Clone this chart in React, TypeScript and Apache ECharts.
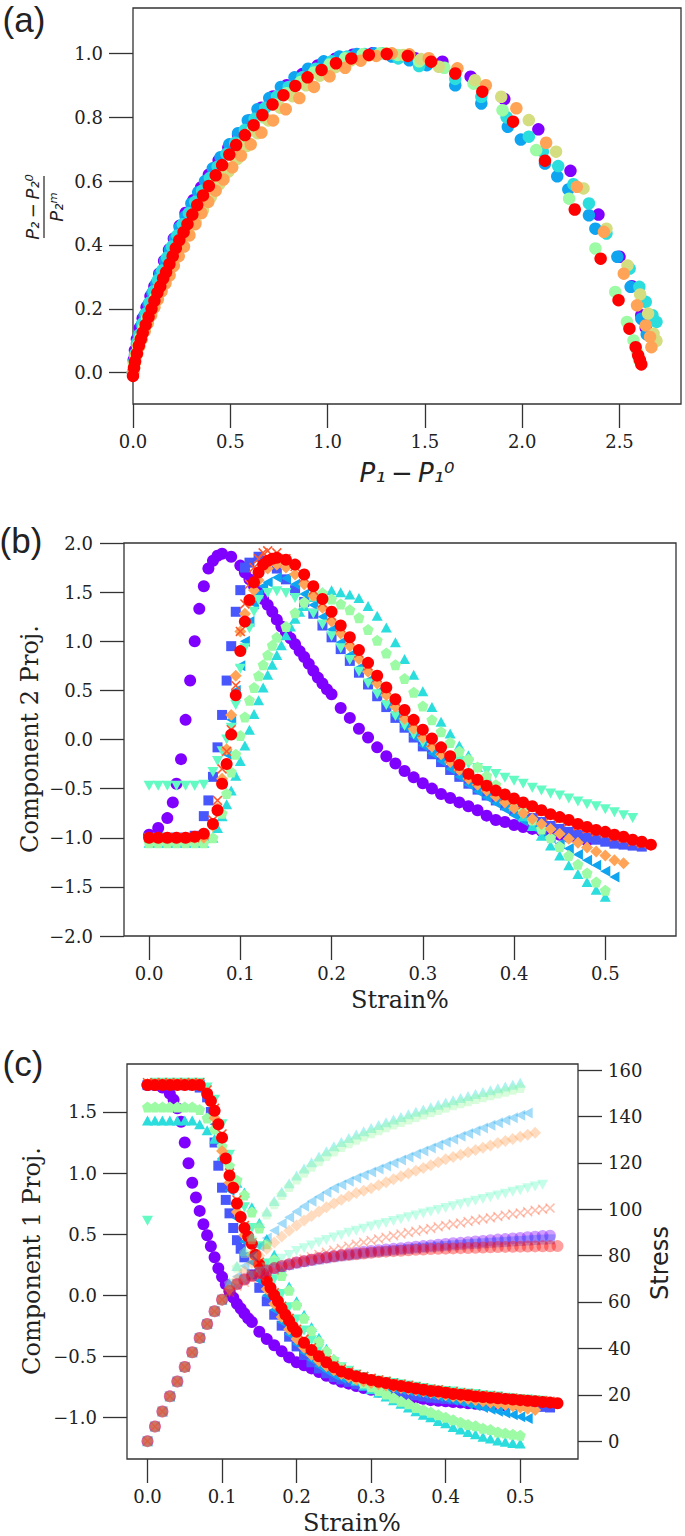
import { useEffect, useRef } from "react";
import * as echarts from "echarts";

// ---------- shared strain grid (panels b, c) ----------
const STRAIN = [
  0, 0.01, 0.02, 0.03, 0.04, 0.05, 0.06, 0.07, 0.08, 0.09, 0.1, 0.11, 0.12, 0.13, 0.14, 0.15, 0.16, 0.17, 0.18, 0.19,
  0.2, 0.21, 0.22, 0.23, 0.24, 0.25, 0.26, 0.27, 0.28, 0.29, 0.3, 0.31, 0.32, 0.33, 0.34, 0.35, 0.36, 0.37, 0.38, 0.39,
  0.4, 0.41, 0.42, 0.43, 0.44, 0.45, 0.46, 0.47, 0.48, 0.49, 0.5, 0.51, 0.52, 0.53, 0.54, 0.55,
];

// ---------- panel (a): P1 - P1^0 vs normalised P2 ----------
const A_PURPLE = [
  [0, 0], [0.004, 0.04], [0.01, 0.07], [0.02, 0.105], [0.035, 0.14], [0.05, 0.17], [0.07, 0.205], [0.09, 0.24],
  [0.11, 0.27], [0.135, 0.31], [0.16, 0.35], [0.185, 0.385], [0.21, 0.42], [0.24, 0.46], [0.27, 0.5], [0.31, 0.54],
  [0.35, 0.58], [0.39, 0.62], [0.44, 0.665], [0.49, 0.705], [0.54, 0.745], [0.6, 0.79], [0.66, 0.83], [0.72, 0.865],
  [0.79, 0.9], [0.87, 0.935], [0.95, 0.962], [1.04, 0.983], [1.13, 0.996], [1.23, 1.0], [1.33, 0.995], [1.45, 0.985],
  [1.59, 0.974], [1.735, 0.927], [1.908, 0.857], [2.083, 0.762], [2.248, 0.632], [2.392, 0.495], [2.5, 0.363],
  [2.563, 0.271], [2.612, 0.18], [2.635, 0.14],
];
const A_LBLUE = [
  [0, 0], [0.005, 0.03], [0.01, 0.055], [0.02, 0.09], [0.03, 0.115], [0.045, 0.15], [0.06, 0.18], [0.08, 0.215],
  [0.1, 0.25], [0.12, 0.28], [0.14, 0.31], [0.165, 0.35], [0.19, 0.385], [0.215, 0.42], [0.24, 0.455], [0.27, 0.49],
  [0.3, 0.53], [0.335, 0.565], [0.37, 0.6], [0.41, 0.64], [0.45, 0.675], [0.495, 0.715], [0.54, 0.75], [0.59, 0.79],
  [0.64, 0.825], [0.7, 0.86], [0.76, 0.895], [0.83, 0.925], [0.9, 0.952], [0.98, 0.975], [1.06, 0.99], [1.15, 0.998],
  [1.24, 1.0], [1.33, 0.99], [1.42, 0.978], [1.51, 0.963], [1.656, 0.9], [1.79, 0.843], [1.926, 0.77], [1.993, 0.73],
  [2.117, 0.655], [2.18, 0.615], [2.237, 0.574], [2.343, 0.493], [2.376, 0.451], [2.489, 0.363], [2.557, 0.269],
  [2.612, 0.169], [2.64, 0.12],
];
const A_CYAN = [
  [0, 0], [0.006, 0.035], [0.012, 0.06], [0.022, 0.095], [0.034, 0.12], [0.05, 0.155], [0.066, 0.185], [0.086, 0.22],
  [0.106, 0.255], [0.128, 0.29], [0.15, 0.32], [0.175, 0.36], [0.2, 0.395], [0.228, 0.43], [0.256, 0.465],
  [0.287, 0.5], [0.32, 0.535], [0.355, 0.57], [0.395, 0.61], [0.435, 0.645], [0.48, 0.685], [0.525, 0.72],
  [0.575, 0.76], [0.625, 0.795], [0.68, 0.83], [0.74, 0.865], [0.8, 0.895], [0.87, 0.925], [0.94, 0.952],
  [1.02, 0.975], [1.1, 0.99], [1.19, 0.998], [1.28, 1.0], [1.363, 0.984], [1.47, 0.96], [1.656, 0.92], [1.79, 0.864],
  [1.92, 0.8], [2.034, 0.739], [2.106, 0.692], [2.185, 0.647], [2.263, 0.59], [2.343, 0.53], [2.433, 0.436],
  [2.552, 0.326], [2.602, 0.269], [2.635, 0.222], [2.669, 0.18], [2.69, 0.159],
];
const A_LGREEN = [
  [0, 0], [0.007, 0.03], [0.014, 0.055], [0.025, 0.085], [0.038, 0.11], [0.055, 0.14], [0.073, 0.17], [0.093, 0.2],
  [0.115, 0.235], [0.138, 0.27], [0.162, 0.3], [0.188, 0.335], [0.215, 0.37], [0.245, 0.41], [0.275, 0.445],
  [0.308, 0.48], [0.345, 0.52], [0.385, 0.56], [0.425, 0.6], [0.47, 0.64], [0.515, 0.68], [0.565, 0.72],
  [0.615, 0.76], [0.67, 0.8], [0.73, 0.84], [0.79, 0.875], [0.86, 0.91], [0.93, 0.94], [1.01, 0.965], [1.09, 0.985],
  [1.18, 0.997], [1.27, 1.0], [1.36, 0.995], [1.47, 0.975], [1.6, 0.955], [1.75, 0.905], [1.899, 0.822],
  [2.072, 0.697], [2.241, 0.545], [2.376, 0.389], [2.478, 0.253], [2.538, 0.159], [2.572, 0.101], [2.59, 0.065],
  [2.6, 0.04],
];
const A_YGREEN = [
  [0, 0], [0.007, 0.028], [0.015, 0.05], [0.027, 0.08], [0.04, 0.105], [0.058, 0.135], [0.077, 0.165],
  [0.098, 0.195], [0.12, 0.228], [0.144, 0.262], [0.17, 0.295], [0.197, 0.33], [0.225, 0.365], [0.255, 0.4],
  [0.287, 0.435], [0.322, 0.472], [0.36, 0.51], [0.4, 0.55], [0.443, 0.59], [0.49, 0.63], [0.537, 0.67],
  [0.587, 0.71], [0.64, 0.75], [0.696, 0.79], [0.756, 0.83], [0.82, 0.866], [0.89, 0.9], [0.96, 0.93],
  [1.04, 0.957], [1.12, 0.978], [1.21, 0.993], [1.3, 1.0], [1.39, 0.995], [1.48, 0.982], [1.572, 0.958],
  [1.757, 0.916], [1.892, 0.864], [2.034, 0.791], [2.174, 0.692], [2.315, 0.577], [2.433, 0.451], [2.541, 0.336],
  [2.606, 0.245], [2.647, 0.185], [2.675, 0.122], [2.69, 0.1],
];
const A_ORANGE = [
  [0, 0], [0.006, 0.015], [0.012, 0.035], [0.022, 0.06], [0.033, 0.083], [0.045, 0.105], [0.06, 0.13],
  [0.076, 0.155], [0.093, 0.18], [0.11, 0.205], [0.128, 0.23], [0.147, 0.255], [0.167, 0.28], [0.188, 0.305],
  [0.21, 0.335], [0.235, 0.365], [0.262, 0.395], [0.29, 0.43], [0.32, 0.465], [0.352, 0.5], [0.387, 0.535],
  [0.425, 0.57], [0.465, 0.605], [0.51, 0.643], [0.555, 0.68], [0.605, 0.715], [0.66, 0.752], [0.72, 0.79],
  [0.785, 0.825], [0.855, 0.86], [0.93, 0.895], [1.01, 0.928], [1.09, 0.955], [1.17, 0.977], [1.25, 0.992],
  [1.33, 1.0], [1.42, 0.997], [1.52, 0.985], [1.667, 0.953], [1.813, 0.9], [1.97, 0.828], [2.123, 0.72],
  [2.281, 0.582], [2.42, 0.441], [2.522, 0.31], [2.59, 0.211], [2.635, 0.148], [2.657, 0.112], [2.664, 0.08],
];
const A_RED = [
  [0, -0.01], [0.005, 0.015], [0.01, 0.035], [0.02, 0.06], [0.03, 0.085], [0.04, 0.105], [0.05, 0.125],
  [0.065, 0.15], [0.08, 0.175], [0.095, 0.2], [0.11, 0.225], [0.125, 0.25], [0.14, 0.27], [0.155, 0.295],
  [0.17, 0.315], [0.187, 0.34], [0.204, 0.365], [0.22, 0.39], [0.238, 0.415], [0.26, 0.44], [0.28, 0.465],
  [0.305, 0.495], [0.33, 0.525], [0.36, 0.555], [0.39, 0.585], [0.425, 0.618], [0.458, 0.65], [0.495, 0.683],
  [0.53, 0.713], [0.575, 0.744], [0.62, 0.775], [0.665, 0.807], [0.717, 0.84], [0.773, 0.869], [0.834, 0.898],
  [0.897, 0.925], [0.969, 0.948], [1.043, 0.969], [1.122, 0.984], [1.212, 0.995], [1.304, 0.998], [1.412, 0.992],
  [1.532, 0.974], [1.656, 0.937], [1.795, 0.88], [1.953, 0.786], [2.117, 0.664], [2.27, 0.511], [2.403, 0.357],
  [2.495, 0.227], [2.551, 0.138], [2.583, 0.08], [2.596, 0.054], [2.605, 0.039], [2.612, 0.026],
];

// ---------- panel (b): component 2 projection ----------
const B_PURPLE = [
  -0.97, -0.9, -0.8, -0.45, 0.2, 1.0, 1.56, 1.82, 1.89, 1.86, 1.77, 1.63, 1.5, 1.37, 1.22, 1.09, 0.97, 0.84, 0.7, 0.57,
  0.46, 0.32, 0.22, 0.11, 0.02, -0.08, -0.17, -0.245, -0.32, -0.385, -0.445, -0.5, -0.555, -0.595, -0.64, -0.68,
  -0.72, -0.775, -0.82, -0.84, -0.87, -0.89, -0.91, -0.93, -0.95, -0.97, -0.99, -1.01, -1.03,
];
const B_SQUARE = [
  -1.0, -1.0, -1.0, -1.0, -1.0, -0.98, -0.78, -0.38, 0.25, 0.95, 1.52, 1.8, 1.86, 1.82, 1.74, 1.63, 1.52, 1.4, 1.28,
  1.16, 1.04, 0.92, 0.8, 0.68, 0.56, 0.44, 0.33, 0.22, 0.12, 0.02, -0.07, -0.15, -0.23, -0.31, -0.38, -0.45, -0.51,
  -0.57, -0.62, -0.67, -0.72, -0.76, -0.8, -0.84, -0.88, -0.91, -0.94, -0.97, -1.0, -1.02, -1.04, -1.06, -1.07, -1.08,
  -1.09,
];
const B_LBLUE = [
  -1.0, -1.0, -1.0, -1.0, -1.0, -1.0, -1.0, -0.88, -0.45, 0.2, 0.75, 1.2, 1.48, 1.6, 1.65, 1.64, 1.58, 1.48, 1.37,
  1.25, 1.12, 0.99, 0.86, 0.73, 0.6, 0.48, 0.36, 0.24, 0.13, 0.03, -0.06, -0.14, -0.22, -0.3, -0.38, -0.46, -0.53,
  -0.59, -0.65, -0.71, -0.77, -0.83, -0.89, -0.95, -1.0, -1.06, -1.11, -1.17, -1.23, -1.28, -1.34, -1.4,
];
const B_TURQ = [
  -1.05, -1.05, -1.05, -1.05, -1.05, -1.05, -1.05, -1.0, -0.78, -0.52, -0.22, 0.1, 0.4, 0.66, 0.86, 1.06, 1.23,
  1.36, 1.45, 1.5, 1.52, 1.5, 1.475, 1.44, 1.36, 1.26, 1.14, 0.99, 0.82, 0.66, 0.49, 0.33, 0.18, 0.06, -0.06, -0.16,
  -0.28, -0.38, -0.48, -0.58, -0.68, -0.78, -0.88, -0.98, -1.08, -1.18, -1.28, -1.37, -1.45, -1.53, -1.6,
];
const B_TEAL = [
  -0.47, -0.47, -0.47, -0.47, -0.47, -0.47, -0.46, -0.33, -0.12, 0.12, 0.72, 1.13, 1.42, 1.49, 1.51, 1.49, 1.44,
  1.37, 1.28, 1.17, 1.05, 0.93, 0.81, 0.69, 0.57, 0.46, 0.35, 0.24, 0.14, 0.05, -0.03, -0.09, -0.14, -0.18, -0.22,
  -0.25, -0.29, -0.32, -0.35, -0.39, -0.42, -0.45, -0.49, -0.52, -0.55, -0.57, -0.6, -0.63, -0.66, -0.68, -0.71,
  -0.74, -0.77, -0.8,
];
const B_PENT = [
  -1.05, -1.05, -1.05, -1.05, -1.05, -1.05, -1.05, -1.0, -0.75, -0.33, 0.04, 0.4, 0.65, 0.86, 1.04, 1.15, 1.29, 1.4,
  1.47, 1.49, 1.43, 1.38, 1.32, 1.24, 1.12, 1.01, 0.88, 0.76, 0.62, 0.48, 0.34, 0.2, 0.08, -0.03, -0.12, -0.2, -0.28,
  -0.37, -0.46, -0.55, -0.64, -0.73, -0.82, -0.91, -1.0, -1.09, -1.18, -1.27, -1.36, -1.45, -1.535,
];
const B_ORANGE = [
  -1.0, -1.0, -1.0, -1.0, -1.0, -1.0, -1.0, -0.88, -0.4, 0.25, 1.1, 1.4, 1.62, 1.74, 1.78, 1.75, 1.68, 1.58, 1.46,
  1.34, 1.2, 1.08, 0.95, 0.82, 0.69, 0.57, 0.45, 0.33, 0.21, 0.11, 0.02, -0.07, -0.15, -0.23, -0.31, -0.4, -0.46,
  -0.52, -0.58, -0.64, -0.7, -0.75, -0.81, -0.86, -0.91, -0.96, -1.01, -1.05, -1.1, -1.14, -1.18, -1.23, -1.26,
];
const B_CROSS = [
  -1.0, -1.0, -1.0, -1.0, -1.0, -1.0, -0.97, -0.82, -0.3, 0.1, 1.1, 1.58, 1.84, 1.92, 1.9, 1.84, 1.76, 1.65, 1.52,
  1.39, 1.26, 1.14, 1.01, 0.88, 0.75, 0.63, 0.51, 0.39, 0.27, 0.17, 0.07, -0.03, -0.11, -0.19, -0.28, -0.37, -0.43,
  -0.48, -0.53, -0.58, -0.62, -0.66, -0.7, -0.74, -0.78, -0.81, -0.84, -0.88, -0.91, -0.94, -0.96, -0.99, -1.01,
  -1.04, -1.06,
];
const B_RED = [
  -1.0, -1.0, -1.0, -1.0, -1.0, -0.99, -0.96, -0.86, -0.45, 0.05, 0.9, 1.42, 1.7, 1.82, 1.85, 1.83, 1.78, 1.68, 1.56,
  1.43, 1.3, 1.16, 1.04, 0.91, 0.78, 0.65, 0.53, 0.41, 0.3, 0.2, 0.1, 0.01, -0.08, -0.17, -0.26, -0.35, -0.41, -0.47,
  -0.52, -0.56, -0.6, -0.64, -0.68, -0.72, -0.76, -0.79, -0.82, -0.86, -0.89, -0.92, -0.94, -0.97, -0.99, -1.02,
  -1.04, -1.07,
];
const B_PURPLE_STEEP = [
  [0.026, -0.64], [0.035, -0.2], [0.045, 0.6], [0.055, 1.33], [0.065, 1.74], [0.075, 1.87], [0.105, 1.7],
  [0.115, 1.56], [0.125, 1.43], [0.135, 1.3], [0.145, 1.15], [0.155, 1.03], [0.165, 0.9], [0.175, 0.77],
  [0.185, 0.63], [0.195, 0.51],
];
const B_SQUARE_STEEP = [[0.065, -0.62], [0.075, -0.08], [0.085, 0.6], [0.095, 1.3], [0.105, 1.75]];
const B_LBLUE_STEEP = [[0.085, -0.15], [0.095, 0.5], [0.105, 1.0], [0.115, 1.38], [0.125, 1.56]];
const B_TURQ_STEEP = [
  [0.075, -0.9], [0.085, -0.66], [0.095, -0.37], [0.105, -0.06], [0.115, 0.26], [0.125, 0.53], [0.135, 0.76],
  [0.145, 0.96], [0.155, 1.15], [0.165, 1.3],
];
const B_TEAL_STEEP = [[0.075, -0.22], [0.085, 0.0], [0.095, 0.35], [0.105, 0.93], [0.115, 1.3]];
const B_PENT_STEEP = [[0.085, -0.55], [0.095, -0.15], [0.105, 0.23], [0.115, 0.53], [0.125, 0.76], [0.135, 0.96]];
const B_ORANGE_STEEP = [[0.075, -0.7], [0.085, -0.1], [0.095, 0.65], [0.105, 1.28], [0.115, 1.52]];
const B_CROSS_STEEP = [[0.075, -0.62], [0.085, -0.12], [0.095, 0.55], [0.105, 1.38], [0.115, 1.75], [0.125, 1.9]];
const B_RED_STEEP = [
  [0.075, -0.72], [0.085, -0.25], [0.095, 0.45], [0.105, 1.2], [0.115, 1.6], [0.125, 1.78], [0.135, 1.84],
];

// ---------- panel (c): component 1 projection ----------
const C_PURPLE = [
  1.72, 1.72, 1.7, 1.65, 1.53, 1.25, 0.92, 0.69, 0.49, 0.31, 0.15, 0.03, -0.07, -0.15, -0.22, -0.3, -0.36, -0.41,
  -0.46, -0.51, -0.55, -0.575, -0.6, -0.63, -0.66, -0.685, -0.71, -0.725, -0.745, -0.76, -0.775, -0.79, -0.8, -0.81,
  -0.82, -0.83, -0.84, -0.85, -0.86, -0.865, -0.87, -0.875, -0.88, -0.885, -0.89, -0.895, -0.9, -0.9, -0.905,
];
const C_SQUARE = [
  1.72, 1.72, 1.72, 1.72, 1.72, 1.72, 1.72, 1.7, 1.62, 1.25, 0.88, 0.67, 0.45, 0.31, 0.17, 0.06, -0.05, -0.16,
  -0.25, -0.34, -0.42, -0.49, -0.55, -0.6, -0.64, -0.67, -0.69, -0.71, -0.73, -0.745, -0.76, -0.77, -0.78, -0.79,
  -0.8, -0.81, -0.82, -0.83, -0.84, -0.845, -0.85, -0.855, -0.86, -0.865, -0.87, -0.875, -0.88, -0.885, -0.89,
  -0.895, -0.9, -0.905, -0.91, -0.915, -0.92,
];
const C_LBLUE = [
  1.72, 1.72, 1.72, 1.72, 1.72, 1.72, 1.72, 1.72, 1.64, 1.4, 1.12, 0.86, 0.63, 0.44, 0.27, 0.12, 0.0, -0.12, -0.22,
  -0.32, -0.4, -0.47, -0.53, -0.58, -0.62, -0.655, -0.68, -0.7, -0.715, -0.725, -0.735, -0.745, -0.755, -0.765,
  -0.775, -0.785, -0.795, -0.805, -0.815, -0.83, -0.845, -0.86, -0.875, -0.89, -0.905, -0.92, -0.935, -0.95, -0.965,
  -0.98, -0.995, -1.01,
];
const C_TURQ = [
  1.43, 1.43, 1.43, 1.43, 1.43, 1.43, 1.43, 1.4, 1.35, 1.28, 1.14, 1.0, 0.92, 0.84, 0.72, 0.59, 0.46, 0.33, 0.2,
  0.07, -0.05, -0.16, -0.26, -0.35, -0.44, -0.52, -0.59, -0.65, -0.7, -0.74, -0.77, -0.8, -0.83, -0.86, -0.89, -0.92,
  -0.95, -0.98, -1.0, -1.03, -1.05, -1.08, -1.1, -1.12, -1.14, -1.16, -1.175, -1.19, -1.2, -1.21, -1.216,
];
const C_TEAL = [
  0.61, 1.74, 1.74, 1.74, 1.74, 1.74, 1.74, 1.74, 1.7, 1.6, 1.4, 1.15, 0.92, 0.72, 0.55, 0.4, 0.26, 0.13, 0.01, -0.1,
  -0.2, -0.29, -0.37, -0.44, -0.5, -0.55, -0.59, -0.62, -0.65, -0.67, -0.69, -0.7, -0.71, -0.72, -0.73, -0.74, -0.75,
  -0.76, -0.77, -0.78, -0.785, -0.79, -0.8, -0.805, -0.81, -0.82, -0.825, -0.83, -0.84, -0.845, -0.85, -0.855, -0.86,
  -0.865,
];
const C_PENT = [
  1.54, 1.54, 1.54, 1.54, 1.54, 1.54, 1.54, 1.52, 1.45, 1.36, 1.22, 1.06, 0.94, 0.82, 0.68, 0.55, 0.42, 0.29, 0.16,
  0.04, -0.08, -0.19, -0.29, -0.38, -0.46, -0.53, -0.59, -0.64, -0.68, -0.72, -0.75, -0.78, -0.81, -0.84, -0.87,
  -0.89, -0.92, -0.94, -0.96, -0.98, -1.0, -1.02, -1.04, -1.06, -1.07, -1.09, -1.1, -1.12, -1.13, -1.14, -1.148,
];
const C_ORANGE = [
  1.73, 1.73, 1.73, 1.73, 1.73, 1.73, 1.73, 1.73, 1.66, 1.45, 1.18, 0.92, 0.68, 0.49, 0.33, 0.18, 0.05, -0.07,
  -0.18, -0.28, -0.36, -0.43, -0.49, -0.54, -0.58, -0.615, -0.645, -0.67, -0.69, -0.705, -0.72, -0.73, -0.74, -0.75,
  -0.76, -0.77, -0.78, -0.79, -0.8, -0.81, -0.82, -0.83, -0.84, -0.85, -0.86, -0.87, -0.88, -0.89, -0.9, -0.91,
  -0.92, -0.93, -0.94,
];
const C_CROSS = [
  1.74, 1.74, 1.74, 1.74, 1.74, 1.74, 1.74, 1.74, 1.68, 1.53, 1.32, 1.0, 0.78, 0.57, 0.43, 0.27, 0.13, 0.02, -0.09,
  -0.19, -0.28, -0.36, -0.43, -0.49, -0.535, -0.575, -0.605, -0.63, -0.65, -0.665, -0.68, -0.695, -0.705, -0.72,
  -0.73, -0.74, -0.75, -0.76, -0.77, -0.775, -0.785, -0.79, -0.8, -0.805, -0.81, -0.82, -0.825, -0.83, -0.84, -0.845,
  -0.85, -0.855, -0.86, -0.865, -0.87,
];
const C_RED = [
  1.72, 1.72, 1.72, 1.72, 1.72, 1.72, 1.72, 1.72, 1.65, 1.51, 1.29, 0.98, 0.75, 0.55, 0.42, 0.25, 0.12, 0.0, -0.11,
  -0.21, -0.3, -0.39, -0.45, -0.5, -0.55, -0.59, -0.625, -0.645, -0.665, -0.68, -0.695, -0.71, -0.72, -0.735, -0.745,
  -0.755, -0.765, -0.775, -0.785, -0.79, -0.8, -0.81, -0.815, -0.82, -0.83, -0.835, -0.84, -0.845, -0.85, -0.855,
  -0.86, -0.865, -0.87, -0.875, -0.88, -0.885,
];
const C_PURPLE_STEEP = [
  [0.035, 1.6], [0.045, 1.42], [0.055, 1.08], [0.065, 0.8], [0.075, 0.58], [0.085, 0.4], [0.095, 0.22],
  [0.105, 0.09], [0.115, -0.02], [0.125, -0.11], [0.135, -0.19],
];
const C_SQUARE_STEEP = [[0.085, 1.5], [0.095, 1.06], [0.105, 0.78], [0.115, 0.55], [0.125, 0.38]];
const C_RED_STEEP = [
  [0.085, 1.59], [0.095, 1.4], [0.105, 1.12], [0.115, 0.88], [0.125, 0.64], [0.135, 0.48], [0.145, 0.33],
  [0.155, 0.18], [0.165, 0.06], [0.175, -0.05], [0.185, -0.16], [0.195, -0.26],
];

// ---------- panel (c): stress (right axis) ----------
// the elastic ramp (strain 0 .. 0.10) is shared by every run
const STRESS_RAMP = [0, 6.3, 12.8, 19.3, 25.7, 32.0, 38.3, 44.5, 50.5, 56.0, 61.0];
// the rest, from strain 0.11 on
const S_PURPLE = [
  65.0, 67.8, 69.9, 71.4, 72.5, 73.6, 74.6, 75.4, 76.2, 77.0, 77.6, 78.2, 78.8, 79.3, 79.8, 80.3, 80.7, 81.1, 81.6,
  82.0, 82.3, 82.6, 82.9, 83.2, 83.5, 83.8, 84.1, 84.4, 84.7, 85.0, 85.3, 85.5, 85.8, 86.1, 86.3, 86.6, 86.9, 87.1,
  87.4, 87.6, 87.9, 88.1, 88.4, 88.6,
];
const S_SQUARE = [
  64.9, 67.7, 69.7, 71.3, 72.3, 73.4, 74.3, 75.1, 75.9, 76.6, 77.2, 77.8, 78.3, 78.8, 79.3, 79.7, 80.1, 80.5, 80.9,
  81.3, 81.6, 81.9, 82.2, 82.5, 82.8, 83.1, 83.4, 83.6, 83.9, 84.1, 84.4, 84.6, 84.9, 85.1, 85.3, 85.5, 85.7, 85.9,
  86.1, 86.3, 86.5, 86.7, 86.9, 87.0,
];
const S_LBLUE = [
  66.2, 71.0, 75.5, 79.9, 84.0, 87.6, 90.8, 93.8, 96.5, 99.0, 101.3, 103.4, 105.4, 107.3, 109.1, 110.5, 112.0, 113.4,
  114.7, 116.0, 117.3, 118.6, 119.9, 121.2, 122.5, 123.8, 125.1, 126.4, 127.7, 129.0, 130.2, 131.4, 132.6, 133.8,
  135.0, 136.2, 137.3, 138.4, 139.4, 140.5, 141.5,
];
const S_TURQ = [
  68.5, 75.5, 82.0, 88.2, 94.0, 99.0, 103.5, 107.5, 111.2, 114.5, 117.5, 120.2, 122.7, 125.0, 127.1, 129.0, 130.7,
  132.2, 133.6, 135.0, 136.3, 137.5, 138.7, 139.8, 140.9, 142.0, 143.0, 144.0, 145.0, 146.0, 147.0, 147.9, 148.8,
  149.7, 150.5, 151.3, 152.1, 152.9, 153.7, 154.5,
];
const S_TEAL = [
  64.3, 67.0, 69.3, 71.3, 73.0, 74.9, 76.8, 78.6, 80.3, 82.0, 83.2, 84.4, 85.6, 86.7, 87.8, 88.8, 89.8, 90.7, 91.6,
  92.5, 93.3, 94.1, 94.9, 95.7, 96.5, 97.3, 98.1, 98.9, 99.7, 100.5, 101.3, 102.1, 102.8, 103.6, 104.4, 105.1, 105.9,
  106.7, 107.5, 108.2, 109.0, 109.8, 110.5,
];
const S_PENT = [
  68.0, 75.0, 81.3, 87.3, 93.0, 97.9, 102.3, 106.3, 109.8, 113.0, 115.9, 118.5, 120.9, 123.1, 125.1, 127.0, 128.7,
  130.2, 131.6, 133.0, 134.3, 135.5, 136.7, 137.8, 138.9, 140.0, 141.0, 142.0, 143.0, 144.0, 145.0, 145.9, 146.8,
  147.7, 148.5, 149.3, 150.1, 150.9, 151.7, 152.5,
];
const S_ORANGE = [
  65.5, 69.8, 73.3, 76.8, 80.0, 82.9, 85.6, 88.2, 90.7, 93.0, 95.1, 97.1, 99.0, 100.8, 102.5, 104.1, 105.6, 107.0,
  108.0, 109.0, 110.3, 111.6, 112.9, 114.2, 115.4, 116.6, 117.8, 119.0, 120.2, 121.5, 122.5, 123.5, 124.5, 125.5,
  126.5, 127.5, 128.5, 129.4, 130.3, 131.2, 132.1, 133.0,
];
const S_CROSS = [
  64.2, 66.8, 68.5, 69.9, 71.0, 72.4, 73.7, 75.0, 76.3, 77.5, 78.5, 79.5, 80.5, 81.4, 82.3, 83.1, 84.0, 84.9, 85.7,
  86.5, 87.2, 87.9, 88.6, 89.3, 89.9, 90.5, 91.1, 91.7, 92.4, 93.0, 93.6, 94.1, 94.7, 95.2, 95.8, 96.3, 96.8, 97.4,
  97.9, 98.4, 98.9, 99.5, 100.0, 100.5,
];
const S_RED = [
  64.8, 67.6, 69.6, 71.2, 72.5, 73.6, 74.6, 75.5, 76.3, 77.0, 77.6, 78.2, 78.7, 79.2, 79.6, 80.0, 80.3, 80.6, 80.9,
  81.2, 81.5, 81.7, 81.9, 82.1, 82.3, 82.5, 82.6, 82.8, 82.9, 83.0, 83.1, 83.2, 83.3, 83.4, 83.5, 83.6, 83.7, 83.75,
  83.8, 83.85, 83.9, 83.95, 84.0, 84.05, 84.1,
];

// ---------- ticks ----------
const A_XTICKS = [0, 0.5, 1.0, 1.5, 2.0, 2.5];
const A_YTICKS = [0, 0.2, 0.4, 0.6, 0.8, 1.0];
const STRAIN_TICKS = [0, 0.1, 0.2, 0.3, 0.4, 0.5];
const B_YTICKS = [-2, -1.5, -1, -0.5, 0, 0.5, 1, 1.5, 2];
const C_YTICKS = [-1, -0.5, 0, 0.5, 1, 1.5];
const STRESS_TICKS = [0, 20, 40, 60, 80, 100, 120, 140, 160];

// rainbow colours, one per run
const COL = {
  purple: "#8000ff",
  blue: "#4757fb",
  lblue: "#0ea4f0",
  turq: "#2bdddd",
  teal: "#63fbc3",
  lgreen: "#9cfba4",
  ygreen: "#d4dd80",
  orange: "#ffa457",
  cross: "#ff572c",
  red: "#ff0000",
};

const PENTAGON = "path://M0,-1 L0.951,-0.309 L0.588,0.809 L-0.588,0.809 L-0.951,-0.309 Z";
const XMARK = "path://M0,1.1 L1.1,0 L5,3.9 L8.9,0 L10,1.1 L6.1,5 L10,8.9 L8.9,10 L5,6.1 L1.1,10 L0,8.9 L3.9,5 Z";

type Mark = { symbol: string; size: number | number[]; rotate: number };
const M: Record<string, Mark> = {
  circle: { symbol: "circle", size: 12, rotate: 0 },
  square: { symbol: "rect", size: 10, rotate: 0 },
  triLeft: { symbol: "triangle", size: [11, 10], rotate: 90 },
  triUp: { symbol: "triangle", size: [11, 10], rotate: 0 },
  triDown: { symbol: "triangle", size: [11, 10], rotate: 180 },
  pent: { symbol: PENTAGON, size: 11, rotate: 0 },
  diamond: { symbol: "diamond", size: 12, rotate: 0 },
  cross: { symbol: XMARK, size: 10, rotate: 0 },
};

const SERIF = "DejaVu Serif";
const SANS = "DejaVu Sans";
const INK = "#222";
const FRAME = "#333";

const pairs = (ys: number[]) => ys.map((y, i) => [STRAIN[i], y]);
const withRamp = (tail: number[]) => pairs([...STRESS_RAMP, ...tail]);

const fmt1 = (v: number) => (v < 0 ? "\u2212" : "") + Math.abs(v).toFixed(1);
const fmt0 = (v: number) => String(v);

function scatter(data: number[][], color: string, mark: Mark, xi: number, yi: number, opacity = 1) {
  return {
    type: "scatter" as const,
    xAxisIndex: xi,
    yAxisIndex: yi,
    data,
    symbol: mark.symbol,
    symbolSize: mark.size,
    symbolRotate: mark.rotate,
    itemStyle: { color, opacity },
    silent: true,
  };
}

function axis(gridIndex: number, min: number, max: number, ticks: number[], fmt: (v: number) => string, margin: number, extra = {}) {
  return {
    type: "value" as const,
    gridIndex,
    min,
    max,
    splitLine: { show: false },
    axisLine: { show: false, onZero: false },
    axisTick: { show: true, inside: false, length: 24, customValues: ticks, lineStyle: { color: FRAME, width: 1.3 } },
    axisLabel: {
      customValues: ticks,
      formatter: (v: number) => `{t|${fmt(v)}}`,
      margin,
      color: INK,
      fontFamily: SERIF,
      fontSize: 18,
      rich: { t: { fontFamily: SERIF, fontSize: 18, color: INK } },
    },
    ...extra,
  };
}

const txt = (text: string, x: number, y: number, font: string, size: number, rotation = 0, italic = false) => ({
  type: "text" as const,
  x,
  y,
  rotation,
  silent: true,
  style: {
    text,
    fill: INK,
    fontFamily: font,
    fontSize: size,
    fontStyle: italic ? "italic" : "normal",
    align: "center",
    verticalAlign: "middle",
  },
});

export default function App() {
  const chartRef = useRef<HTMLDivElement | null>(null);

  useEffect(() => {
    if (!chartRef.current) return;
    const chart = echarts.init(chartRef.current, undefined, { renderer: "svg" });

    const gridStyle = { show: true, borderColor: FRAME, borderWidth: 1.3, backgroundColor: "transparent" };

    const seriesA = [
      [A_PURPLE, COL.purple],
      [A_LBLUE, COL.lblue],
      [A_CYAN, COL.turq],
      [A_LGREEN, COL.lgreen],
      [A_YGREEN, COL.ygreen],
      [A_ORANGE, COL.orange],
      [A_RED, COL.red],
    ].map(([d, c]) => scatter(d as number[][], c as string, { ...M.circle, size: 12.5 }, 0, 0));

    const runsB: [number[], number[][], string, Mark][] = [
      [B_PURPLE, B_PURPLE_STEEP, COL.purple, M.circle],
      [B_SQUARE, B_SQUARE_STEEP, COL.blue, M.square],
      [B_LBLUE, B_LBLUE_STEEP, COL.lblue, M.triLeft],
      [B_TURQ, B_TURQ_STEEP, COL.turq, M.triUp],
      [B_TEAL, B_TEAL_STEEP, COL.teal, M.triDown],
      [B_PENT, B_PENT_STEEP, COL.lgreen, M.pent],
      [B_ORANGE, B_ORANGE_STEEP, COL.orange, M.diamond],
      [B_CROSS, B_CROSS_STEEP, COL.cross, M.cross],
      [B_RED, B_RED_STEEP, COL.red, M.circle],
    ];
    const seriesB = runsB.map(([d, extra, c, m]) => scatter([...pairs(d), ...extra], c, m, 1, 1));

    const runsC: [number[], number[][], number[], string, Mark][] = [
      [C_PURPLE, C_PURPLE_STEEP, S_PURPLE, COL.purple, M.circle],
      [C_SQUARE, C_SQUARE_STEEP, S_SQUARE, COL.blue, M.square],
      [C_LBLUE, [], S_LBLUE, COL.lblue, M.triLeft],
      [C_TURQ, [], S_TURQ, COL.turq, M.triUp],
      [C_TEAL, [], S_TEAL, COL.teal, M.triDown],
      [C_PENT, [], S_PENT, COL.lgreen, M.pent],
      [C_ORANGE, [], S_ORANGE, COL.orange, M.diamond],
      [C_CROSS, [], S_CROSS, COL.cross, M.cross],
      [C_RED, C_RED_STEEP, S_RED, COL.red, M.circle],
    ];
    const seriesC = runsC.map(([d, extra, , c, m]) => scatter([...pairs(d), ...extra], c, m, 2, 2));
    const seriesStress = runsC.map(([, , s, c, m]) => scatter(withRamp(s), c, m, 2, 3, 0.38));

    chart.setOption({
      animation: false,
      backgroundColor: "#ffffff",
      textStyle: { fontFamily: SERIF },
      grid: [
        { left: 133, top: 8, width: 548, height: 396, ...gridStyle },
        { left: 124, top: 543, width: 552, height: 393, ...gridStyle },
        { left: 127, top: 1064, width: 451, height: 395, ...gridStyle },
      ],
      xAxis: [
        axis(0, 0, 2.816, A_XTICKS, fmt1, 28),
        axis(1, -0.0275, 0.5775, STRAIN_TICKS, fmt1, 28),
        axis(2, -0.0275, 0.5775, STRAIN_TICKS, fmt1, 28),
      ],
      yAxis: [
        axis(0, -0.098, 1.142, A_YTICKS, fmt1, 30),
        axis(1, -2, 2, B_YTICKS, fmt1, 31),
        axis(2, -1.342, 1.893, C_YTICKS, fmt1, 30),
        axis(2, -7.7, 162.6, STRESS_TICKS, fmt0, 30, { position: "right" }),
      ],
      series: [...seriesA, ...seriesB, ...seriesC, ...seriesStress],
      graphic: [
        txt("(a)", 24, 19, "Liberation Sans", 35),
        txt("(b)", 21, 540, "Liberation Sans", 35),
        txt("(c)", 23, 1063, "Liberation Sans", 35),
        // panel (a) axis titles
        {
          type: "group",
          x: 44,
          y: 207,
          rotation: Math.PI / 2,
          silent: true,
          children: [
            txt("P\u2082\u2009\u2212\u2009P\u2082\u2070", 0, -12, SANS, 18, 0, true),
            { type: "line", shape: { x1: -31, y1: 0, x2: 31, y2: 0 }, style: { stroke: INK, lineWidth: 1.2 } },
            txt("P\u2082\u1d50", 0, 12, SANS, 18, 0, true),
          ],
        },
        txt("P\u2081\u2009\u2212\u2009P\u2081\u2070", 407, 473, SANS, 26, 0, true),
        // panel (b)
        txt("Component 2 Proj.", 30, 739, SERIF, 24, Math.PI / 2),
        txt("Strain%", 400, 1000, SERIF, 24),
        // panel (c)
        txt("Component 1 Proj.", 32, 1261, SERIF, 24, Math.PI / 2),
        txt("Strain%", 352, 1523, SERIF, 24),
        txt("Stress", 660, 1263, SANS, 24, Math.PI / 2),
      ],
    });

    return () => {
      chart.dispose();
    };
  }, []);

  return (
    <div
      ref={chartRef}
      style={{ position: "absolute", left: 0, top: 0, width: 685, height: 1536 }}
    />
  );
}
